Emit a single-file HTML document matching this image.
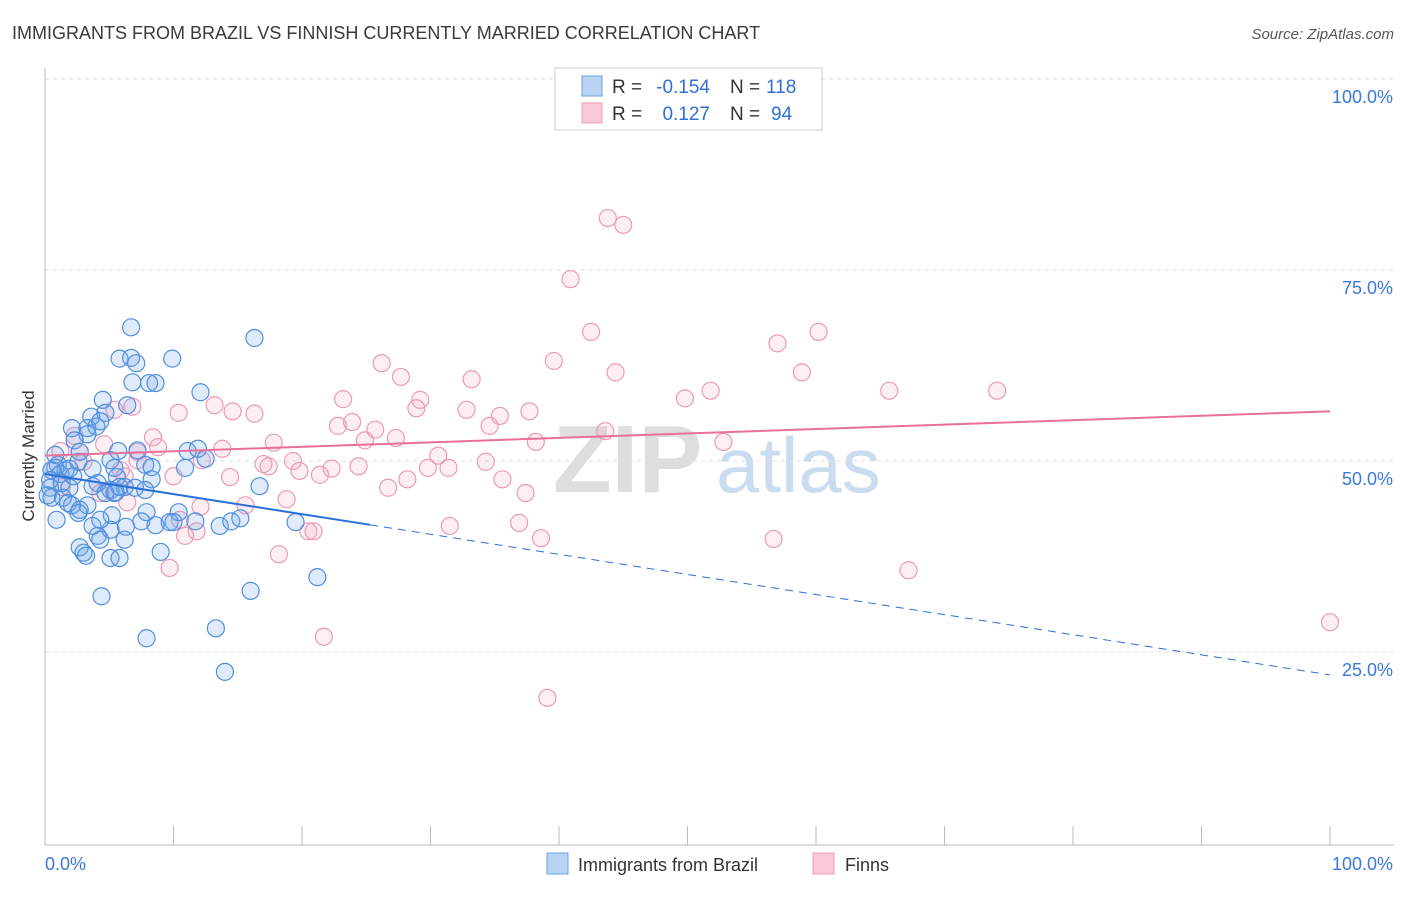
<!DOCTYPE html>
<html><head><meta charset="utf-8">
<style>
body{margin:0;background:#fff;font-family:"Liberation Sans",sans-serif;}
svg text{font-family:"Liberation Sans",sans-serif;}
</style></head>
<body>
<svg id="chart" width="1406" height="892" xmlns="http://www.w3.org/2000/svg">
<text x="12" y="39" font-size="18" fill="#3a3a3a">IMMIGRANTS FROM BRAZIL VS FINNISH CURRENTLY MARRIED CORRELATION CHART</text>
<text x="1394" y="39" font-size="15" fill="#555" text-anchor="end" font-style="italic">Source: ZipAtlas.com</text>
<text x="553" y="492" font-size="96" fill="#dedede" font-family="Liberation Serif" font-weight="bold">ZIP</text>
<text x="716" y="492" font-size="78" fill="#cadcf0">atlas</text>
<g id="grid"></g>
<g id="axes"></g>
<g id="pts"></g>
<g id="trends"></g>
<text transform="translate(34,456) rotate(-90)" font-size="17" fill="#333" text-anchor="middle">Currently Married</text>
<g>
<rect x="555" y="68" width="267" height="62" fill="#fff" stroke="#ccc"/>
<rect x="582" y="76" width="20" height="20" fill="#b9d3f3" stroke="#6aa3e6"/>
<rect x="582" y="103" width="20" height="20" fill="#f9c9d7" stroke="#ee9bb6"/>
<text x="612" y="93" font-size="19" fill="#333">R =</text>
<text x="710" y="93" font-size="19" fill="#2f6fd6" text-anchor="end">-0.154</text>
<text x="730" y="93" font-size="19" fill="#333">N =</text>
<text x="766" y="93" font-size="19" fill="#2f6fd6">118</text>
<text x="612" y="120" font-size="19" fill="#333">R =</text>
<text x="710" y="120" font-size="19" fill="#2f6fd6" text-anchor="end">0.127</text>
<text x="730" y="120" font-size="19" fill="#333">N =</text>
<text x="771" y="120" font-size="19" fill="#2f6fd6">94</text>
</g>
<g>
<rect x="547" y="853" width="21" height="21" fill="#b9d3f3" stroke="#6aa3e6"/>
<text x="578" y="871" font-size="18" fill="#333">Immigrants from Brazil</text>
<rect x="813" y="853" width="21" height="21" fill="#f9c9d7" stroke="#ee9bb6"/>
<text x="845" y="871" font-size="18" fill="#333">Finns</text>
</g>
</svg>
<script>
const blueX=[6.7,16.3,5.8,6.7,7.1,9.9,6.8,8.1,8.6,12.1,4.5,6.4,4.7,3.6,2.1,3.3,4.0,4.3,3.3,5.7,7.2,11.1,11.9,12.5,2.3,1.0,1.6,0.8,0.5,1.2,1.9,2.6,3.7,5.1,5.6,6.2,7.8,8.3,8.3,10.9,4.1,3.7,5.1,5.4,5.5,4.7,7.8,5.8,0.4,0.5,1.9,1.4,1.8,3.3,2.7,2.1,2.6,0.9,5.2,7.9,10.4,3.7,5.1,6.3,7.5,8.6,9.7,10.0,11.7,13.6,14.5,15.2,19.5,16.7,4.1,4.3,6.2,2.7,3.0,3.2,5.1,5.8,9.0,21.2,4.4,16.0,7.9,13.3,14.0,0.4,0.2,1.3,7.0,2.2,5.4,0.8,2.7,4.3];
const blueY=[67.5,66.1,63.4,63.5,62.8,63.4,60.3,60.2,60.2,59.0,58.0,57.3,56.3,55.8,54.3,54.3,54.5,55.2,53.5,51.3,51.4,51.3,51.6,50.3,52.7,49.5,48.8,49.1,48.8,48.3,49.0,49.9,49.0,50.1,47.9,46.6,49.5,49.2,47.6,49.1,47.1,46.7,46.2,45.8,45.9,45.8,46.2,46.6,46.5,45.2,46.5,45.2,44.5,44.2,43.6,44.2,43.2,42.3,42.9,43.3,43.3,41.5,41.0,41.4,42.1,41.6,42.0,42.0,42.1,41.5,42.1,42.5,42.0,46.7,40.2,39.7,39.7,38.7,38.0,37.6,37.3,37.3,38.1,34.8,32.3,33.0,26.8,28.1,22.4,47.5,45.5,47.1,46.5,48.0,49.1,50.8,51.2,42.3];
const pinkX=[43.8,45.0,40.9,42.5,57.0,60.2,39.6,26.2,27.7,44.4,33.2,58.9,51.8,65.7,74.1,49.8,23.2,29.2,13.2,14.6,16.3,10.4,6.8,5.4,32.8,35.4,37.7,28.9,23.9,22.8,25.7,24.9,27.3,34.6,17.8,8.4,8.8,13.8,7.2,4.6,2.3,1.2,2.7,12.2,17.0,17.4,19.3,19.8,21.4,22.3,24.4,30.6,29.8,31.4,34.3,35.6,38.2,43.6,52.8,26.7,28.2,37.4,14.4,10.0,5.9,6.2,7.2,15.6,18.8,12.1,10.5,6.4,31.5,36.9,38.6,56.7,67.2,100.0,18.2,20.5,20.9,9.7,21.7,39.1,1.3,4.3,3.0,11.8,10.9];
const pinkY=[81.8,80.9,73.8,66.9,65.4,66.9,63.1,62.8,61.0,61.6,60.7,61.6,59.2,59.2,59.2,58.2,58.1,58.0,57.3,56.5,56.2,56.3,57.1,56.7,56.7,55.9,56.5,56.9,55.1,54.6,54.1,52.7,53.0,54.6,52.4,53.1,51.8,51.6,51.2,52.2,53.3,51.3,51.2,50.1,49.6,49.3,50.0,48.7,48.2,49.0,49.3,50.7,49.1,49.1,49.9,47.6,52.5,53.9,52.5,46.5,47.6,45.8,47.9,48.0,48.8,48.0,50.1,44.2,45.0,44.0,42.3,44.6,41.5,41.9,39.9,39.8,35.7,28.9,37.8,40.8,40.8,36.0,27.0,19.0,46.6,45.8,49.9,40.8,40.2];
const yTicks=[100,75,50,25];
const yTickLabels=["100.0%","75.0%","50.0%","25.0%"];
const blueTrend=[48.3,22.0];
const pinkTrend=[50.7,56.5];
const blueSolidEnd=25.3;

const NS="http://www.w3.org/2000/svg";
const X=v=>45+v*12.85;
const Y=v=>79+(100-v)*7.64;
function mk(tag,attrs,parent){const e=document.createElementNS(NS,tag);for(const k in attrs)e.setAttribute(k,attrs[k]);parent.appendChild(e);return e;}
const grid=document.getElementById('grid'),axes=document.getElementById('axes'),pts=document.getElementById('pts'),tr=document.getElementById('trends');
yTicks.forEach((t,i)=>{
 const l=mk('line',{x1:45,x2:1394,y1:Y(t),y2:Y(t),stroke:'#ddd','stroke-dasharray':'4,4'},grid);
 
 
 const tx=mk('text',{x:1393,y:Y(t)+24,'font-size':18,fill:'#3b78d8','text-anchor':'end'},grid);
 tx.textContent=yTickLabels[i];
 
 
});
const ax=mk('line',{x1:45,x2:1394,y1:845,y2:845,stroke:'#bbb'},axes);


const ay=mk('line',{x1:45,x2:45,y1:68,y2:845,stroke:'#bbb'},axes);


for(let i=0;i<=10;i++){
 const t=mk('line',{x1:X(i*10),x2:X(i*10),y1:826,y2:845,stroke:'#bbb'},axes);
 
 
}
const xl0=mk('text',{x:45,y:870,'font-size':18,fill:'#3b78d8'},axes);xl0.textContent='0.0%';


const xl1=mk('text',{x:1393,y:870,'font-size':18,fill:'#3b78d8','text-anchor':'end'},axes);xl1.textContent='100.0%';


pinkX.forEach((x,i)=>{
 const c=mk('circle',{cx:X(x),cy:Y(pinkY[i]),r:8.5,fill:'rgba(244,160,190,0.18)',stroke:'#eb9ab6','stroke-width':1.2},pts);
 
 
});
blueX.forEach((x,i)=>{
 const c=mk('circle',{cx:X(x),cy:Y(blueY[i]),r:8.5,fill:'rgba(110,165,230,0.22)',stroke:'#4f8fe0','stroke-width':1.2},pts);
 
 
});
const bY=x=>blueTrend[0]+(blueTrend[1]-blueTrend[0])*x/100;
const b1=mk('line',{x1:X(0),y1:Y(bY(0)),x2:X(blueSolidEnd),y2:Y(bY(blueSolidEnd)),stroke:'#2a6fd8','stroke-width':2},tr);


const b2=mk('line',{x1:X(blueSolidEnd),y1:Y(bY(blueSolidEnd)),x2:X(100),y2:Y(bY(100)),stroke:'#2a6fd8','stroke-width':1,'stroke-dasharray':'8,6'},tr);


const p1=mk('line',{x1:X(0),y1:Y(pinkTrend[0]),x2:X(100),y2:Y(pinkTrend[1]),stroke:'#e8709a','stroke-width':2},tr);


</script>
</body></html>
